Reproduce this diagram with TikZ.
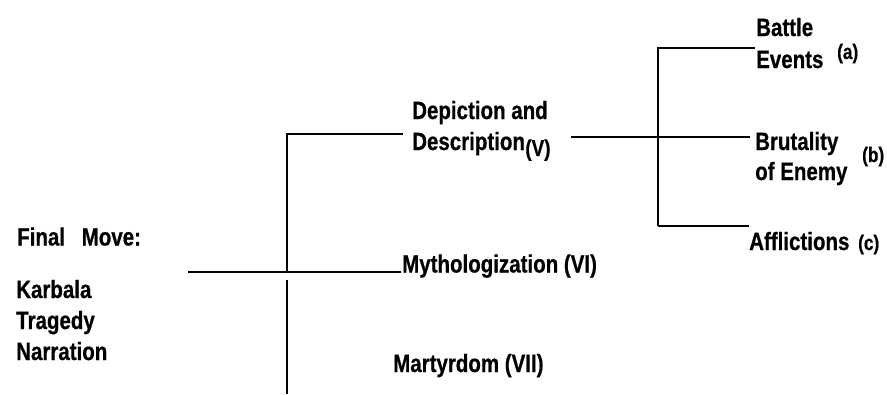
\documentclass[tikz,border=0pt]{standalone}
\usepackage{fontspec}
\newfontfamily\nb[FakeStretch=0.82,FakeBold=0.6]{Liberation Sans}
\begin{document}
\begin{tikzpicture}[x=1pt,y=-1pt,
  lbl/.style={anchor=base west,inner sep=0pt,font=\nb\bfseries\fontsize{25}{31}\selectfont},
  sml/.style={anchor=base west,inner sep=0pt,font=\nb\bfseries\fontsize{21}{24}\selectfont},
  ln/.style={line width=1.2pt,black}]
\useasboundingbox[fill=white] (0,0) rectangle (887,394);
% left block
\node[lbl] (final) at (17,245.5) {Final\hspace{11pt} Move:};
\node[lbl] (karbala) at (16,298) {Karbala};
\node[lbl] (tragedy) at (16,329) {Tragedy};
\node[lbl] (narration) at (16,360) {Narration};
% middle
\node[lbl] (dep1) at (412,119) {Depiction and};
\node[lbl] (dep2) at (412,150) {Description};
\node[anchor=base west,inner sep=0pt,font=\nb\bfseries\fontsize{23}{24}\selectfont] (depV) at (dep2.base east) [yshift=-6pt] {(V)};
\node[lbl] (myth) at (402,272.5) {Mythologization (VI)};
\node[lbl] (mart) at (393,372) {Martyrdom (VII)};
% right
\node[lbl] (bat1) at (756,36) {Battle};
\node[lbl] (bat2) at (756,68) {Events};
\node[sml] (a) at (837,59) {(a)};
\node[lbl] (bru1) at (755,150) {Brutality};
\node[lbl] (bru2) at (755,180) {of Enemy};
\node[sml] (b) at (862,162) {(b)};
\node[lbl] (aff) at (749,250) {Afflictions};
\node[sml] (c) at (858,250) {(c)};
% coordinates
\coordinate (root) at (188,272);
\coordinate (mythend) at (401,272);
\coordinate (vtop) at (287,134);
\coordinate (vmid) at (287,272);
\coordinate (vlow) at (287,280);
\coordinate (vbot) at (287,394);
\coordinate (deptop) at (403,134);
\coordinate (rstart) at (571,137);
\coordinate (rtop) at (658,48);
\coordinate (rmid) at (658,137);
\coordinate (rbot) at (658,226);
\coordinate (batend) at (755,48);
\coordinate (bruend) at (750,137);
\coordinate (affend) at (749,226);
% lines
\draw[ln] (root) -- (mythend);
\draw[ln] (vmid) -- (vtop) -- (deptop);
\draw[ln] (vlow) -- (vbot);
\draw[ln] (rstart) -- (bruend);
\draw[ln] (rbot) -- (rtop) -- (batend);
\draw[ln] (rbot) -- (affend);
\end{tikzpicture}
\end{document}
